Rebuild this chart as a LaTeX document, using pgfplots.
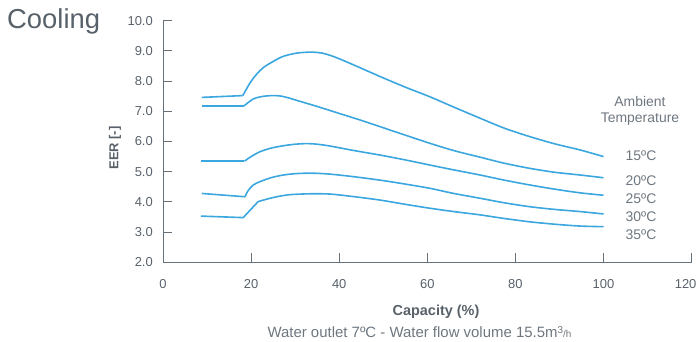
\documentclass[border=0pt]{standalone}
\usepackage{fontspec}
\setmainfont{Liberation Sans}
\usepackage{pgfplots}
\pgfplotsset{compat=1.18}

\definecolor{curve}{HTML}{3BA7DE}
\definecolor{axisgray}{HTML}{66717A}
\definecolor{textgray}{HTML}{58616A}
\definecolor{softgray}{HTML}{6E777F}

\begin{document}
\begin{tikzpicture}
\useasboundingbox (0,0) rectangle (698bp,-342bp);

% headings and notes around the plot
\node[anchor=base west, inner sep=0pt, text=textgray, font=\fontsize{27.5}{30}\selectfont] at (7bp,-28.3bp) {Cooling};
\node[rotate=90, inner sep=0pt, text=textgray, font=\bfseries\fontsize{13}{15}\selectfont] at (115bp,-148bp) {EER [-]};
\node[anchor=base, inner sep=0pt, text=textgray, font=\bfseries\fontsize{14.5}{16}\selectfont] at (436bp,-315.7bp) {Capacity (\%)};
\node[anchor=base, inner sep=0pt, text=softgray, font=\fontsize{15}{17}\selectfont] at (419.5bp,-337.3bp)
  {Water outlet 7ºC - Water flow volume 15.5m{\fontsize{10}{10}\selectfont\raisebox{4bp}{3}/h}};

\begin{scope}[every node/.style={anchor=base, inner sep=0pt, text=softgray, font=\fontsize{14}{16}\selectfont}]
\node at (640bp,-106.7bp) {Ambient};
\node at (640bp,-122.3bp) {Temperature};
\node at (641bp,-160bp) {15ºC};
\node at (641bp,-185bp) {20ºC};
\node at (641bp,-203bp) {25ºC};
\node at (641bp,-221.7bp) {30ºC};
\node at (641bp,-239.7bp) {35ºC};
\end{scope}

\begin{axis}[
  at={(163bp,-262.3bp)}, anchor=south west,
  x=4.405bp, y=30.2bp,
  xmin=0, xmax=120, ymin=2, ymax=10,
  axis x line=bottom, axis y line=left,
  axis line style={-, draw=axisgray, line width=1bp},
  xtick={0,20,...,100}, ytick={2,3,...,10},
  extra x ticks={120},
  extra x tick style={xticklabel style={xshift=-6bp}},
  tick align=inside, major tick length=9bp,
  tick style={axisgray, line width=1bp},
  /pgf/number format/assume math mode=true,
  every tick label/.append style={font=\fontsize{13}{15}\selectfont, text=textgray, inner sep=0pt},
  x tick label style={anchor=north, yshift=-17bp},
  y tick label style={anchor=east, xshift=-10bp,
    /pgf/number format/fixed, /pgf/number format/fixed zerofill, /pgf/number format/precision=1},
  clip=false,
  every axis plot/.append style={curve, line width=1.6bp},
]
% 15 C
\addplot[sharp plot] coordinates {(8.8,7.46) (18.1,7.52)};
\addplot[smooth] coordinates {(18.1,7.52) (19.8,7.95) (21.2,8.22) (22.8,8.45) (25,8.65) (27.3,8.82) (30.5,8.93) (33.8,8.96) (36,8.93) (38,8.85) (40,8.74) (44,8.49) (49.3,8.15) (55,7.80) (60.6,7.48) (66,7.14) (72,6.77) (77.5,6.44) (83.3,6.16) (89,5.92) (94.7,5.72) (100,5.50)};
% 20 C
\addplot[sharp plot] coordinates {(8.8,7.18) (18.4,7.18)};
\addplot[smooth] coordinates {(18.4,7.18) (20.5,7.41) (22.5,7.49) (24.7,7.52) (26.5,7.51) (28.1,7.46) (31.1,7.33) (35,7.16) (40,6.93) (45,6.70) (49.3,6.49) (55,6.21) (60.6,5.94) (66,5.70) (72,5.48) (77.5,5.28) (83.3,5.11) (89,4.98) (94.7,4.89) (100,4.80)};
% 25 C
\addplot[sharp plot] coordinates {(8.6,5.35) (18.5,5.35)};
\addplot[smooth] coordinates {(18.5,5.35) (20,5.50) (22,5.66) (24.5,5.78) (27.3,5.86) (30,5.91) (32.6,5.93) (35,5.91) (37.9,5.85) (43,5.71) (49.3,5.55) (55,5.39) (60.6,5.22) (66,5.06) (72,4.89) (77.5,4.72) (83.3,4.56) (89,4.42) (94.7,4.30) (100,4.22)};
% 30 C
\addplot[sharp plot] coordinates {(8.8,4.28) (18.6,4.17)};
\addplot[smooth] coordinates {(18.6,4.17) (19.4,4.39) (20.5,4.56) (22,4.67) (24.5,4.80) (27.3,4.89) (30.5,4.94) (34.1,4.95) (37.9,4.92) (43,4.84) (49.3,4.72) (55,4.59) (60.6,4.45) (66,4.28) (72,4.12) (77.5,3.97) (83.3,3.84) (89,3.75) (94.7,3.68) (100,3.60)};
% 35 C
\addplot[sharp plot] coordinates {(8.6,3.53) (18.2,3.48) (21.6,4.01)};
\addplot[smooth] coordinates {(21.6,4.01) (24.3,4.12) (26.5,4.19) (28.8,4.24) (31.5,4.26) (34.1,4.27) (37.9,4.26) (43,4.18) (49.3,4.06) (55,3.92) (60.6,3.79) (66,3.68) (72,3.57) (77.5,3.45) (83.3,3.34) (89,3.26) (94.7,3.20) (100,3.18)};
\end{axis}
\end{tikzpicture}
\end{document}
